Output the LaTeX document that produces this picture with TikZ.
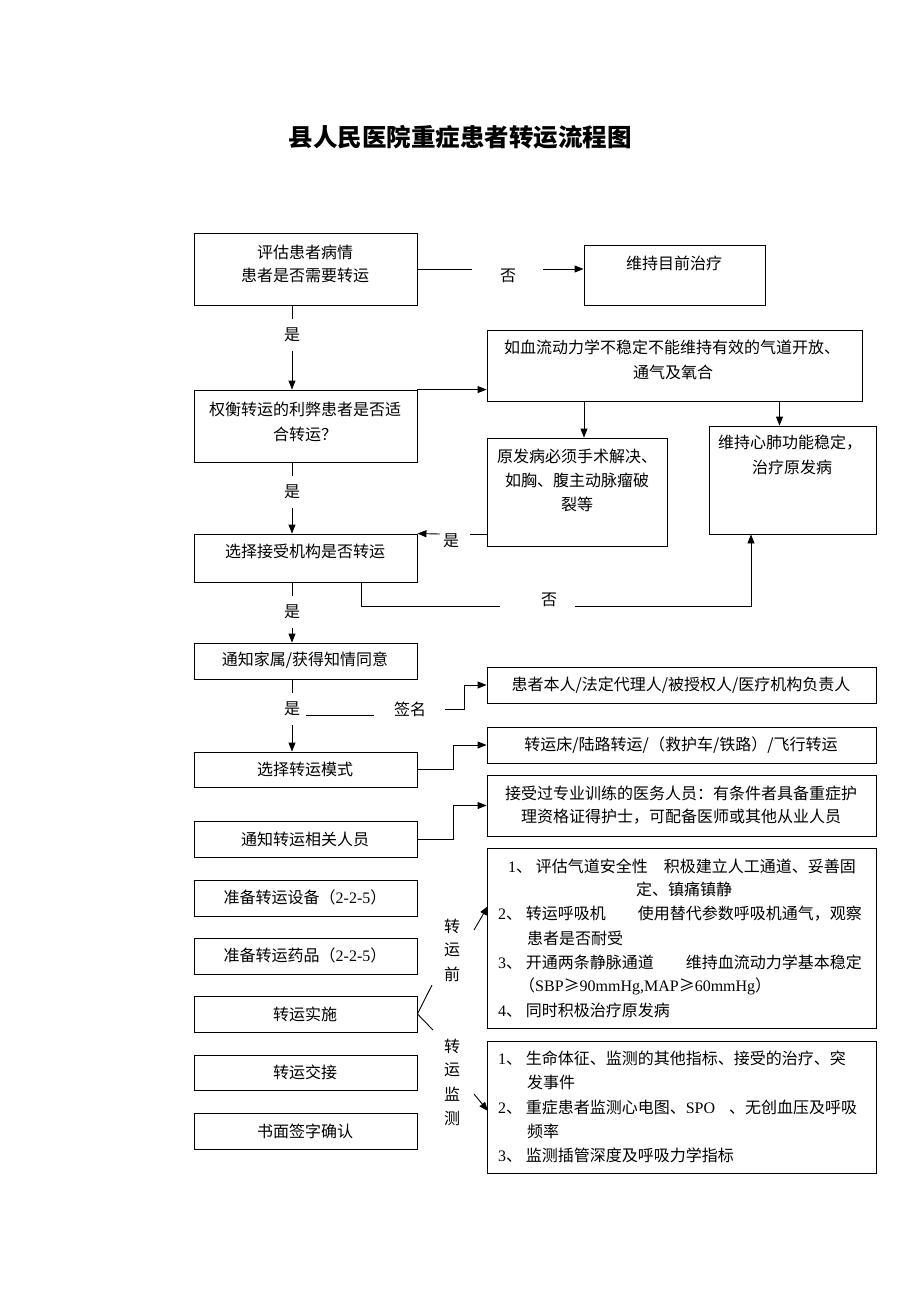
\documentclass[tikz,border=0pt]{standalone}
\usepackage{fontspec}
\setmainfont{Liberation Serif}
\newfontfamily\cjk{Noto Sans CJK SC}
\newcommand\lat[1]{{\rmfamily #1}}
\usetikzlibrary{arrows.meta,fit,calc}
\begin{document}
\begin{tikzpicture}[x=1pt,y=-1pt,
  box/.style={draw, line width=0.9pt, inner sep=0pt},
  txt/.style={font={\cjk\fontsize{16}{19}\selectfont}, inner sep=0pt},
  ltxt/.style={txt, anchor=west},
  ln/.style={line width=0.9pt},
  arr/.style={line width=0.9pt, -{Triangle[length=9pt,width=7pt]}}]
\useasboundingbox (0,0) rectangle (920,1302);
\fill[white] (0,0) rectangle (920,1302);

\node[font={\cjk\bfseries\fontsize{24.5}{28}\selectfont}, inner sep=0pt] (title) at (460,137) {县人民医院重症患者转运流程图};

% boxes
\node[box, fit={(194,233)(417,305)}] (b1) {};
\node[box, fit={(584,245)(765,305)}] (b2) {};
\node[box, fit={(194,390)(417,462)}] (b3) {};
\node[box, fit={(487,330)(862,401)}] (b4) {};
\node[box, fit={(487,438)(667,546)}] (b5) {};
\node[box, fit={(709,426)(876,534)}] (b6) {};
\node[box, fit={(194,534)(417,582)}] (b7) {};
\node[box, fit={(194,643)(417,679)}] (b8) {};
\node[box, fit={(487,667)(876,703)}] (b9) {};
\node[box, fit={(194,752)(417,787)}] (b10) {};
\node[box, fit={(487,727)(876,763)}] (b11) {};
\node[box, fit={(487,775)(876,836)}] (b12) {};
\node[box, fit={(194,821)(417,857)}] (b13) {};
\node[box, fit={(194,880)(417,916)}] (b14) {};
\node[box, fit={(194,938)(417,974)}] (b15) {};
\node[box, fit={(194,996)(417,1032)}] (b16) {};
\node[box, fit={(194,1055)(417,1090)}] (b17) {};
\node[box, fit={(194,1113)(417,1149)}] (b18) {};
\node[box, fit={(487,848)(876,1028)}] (b19) {};
\node[box, fit={(487,1041)(876,1173)}] (b20) {};

% texts
\node[txt] (t1a) at (305,252) {评估患者病情};
\node[txt] (t1b) at (305,275) {患者是否需要转运};
\node[txt] (t2) at (674,263) {维持目前治疗};
\node[txt] (t3a) at (305,409) {权衡转运的利弊患者是否适};
\node[txt] (t3b) at (305,434) {合转运？};
\node[txt] (t4a) at (672,347) {如血流动力学不稳定不能维持有效的气道开放、};
\node[txt] (t4b) at (673,372) {通气及氧合};
\node[txt] (t5a) at (577,456) {原发病必须手术解决、};
\node[txt] (t5b) at (577,480) {如胸、腹主动脉瘤破};
\node[txt] (t5c) at (577,504) {裂等};
\node[txt] (t6a) at (790,443) {维持心肺功能稳定，};
\node[txt] (t6b) at (792,467) {治疗原发病};
\node[txt] (t7) at (305,551) {选择接受机构是否转运};
\node[txt] (t8) at (305,660) {通知家属/获得知情同意};
\node[txt] (t9) at (681,685) {患者本人/法定代理人/被授权人/医疗机构负责人};
\node[txt] (t10) at (305,769) {选择转运模式};
\node[txt] (t11) at (681,745) {转运床/陆路转运/（救护车/铁路）/飞行转运};
\node[txt] (t12a) at (681,793) {接受过专业训练的医务人员：有条件者具备重症护};
\node[txt] (t12b) at (681,817) {理资格证得护士，可配备医师或其他从业人员};
\node[txt] (t13) at (305,839) {通知转运相关人员};
\node[txt] (t14) at (305,897) {准备转运设备（\lat{2-2-5}）};
\node[txt] (t15) at (305,955) {准备转运药品（\lat{2-2-5}）};
\node[txt] (t16) at (305,1014) {转运实施};
\node[txt] (t17) at (305,1072) {转运交接};
\node[txt] (t18) at (305,1131) {书面签字确认};

% list 1
\node[txt] (s1) at (682,866) {\lat{1}、 评估气道安全性　积极建立人工通道、妥善固};
\node[txt] (s2) at (684,889) {定、镇痛镇静};
\node[ltxt] (s3) at (498,914) {\lat{2}、 转运呼吸机　　使用替代参数呼吸机通气，观察};
\node[ltxt] (s4) at (527,938) {患者是否耐受};
\node[ltxt] (s5) at (498,962) {\lat{3}、 开通两条静脉通道　　维持血流动力学基本稳定};
\node[ltxt] (s6) at (519,986) {（\lat{SBP}≥\lat{90mmHg,MAP}≥\lat{60mmHg}）};
\node[ltxt] (s7) at (498,1010) {\lat{4}、 同时积极治疗原发病};
% list 2
\node[ltxt] (m1) at (498,1058) {\lat{1}、 生命体征、监测的其他指标、接受的治疗、突};
\node[ltxt] (m2) at (527,1082) {发事件};
\node[ltxt] (m3) at (498,1107) {\lat{2}、 重症患者监测心电图、\lat{SPO}\hspace{14pt}、无创血压及呼吸};
\node[ltxt] (m4) at (527,1131) {频率};
\node[ltxt] (m5) at (498,1155) {\lat{3}、 监测插管深度及呼吸力学指标};

% vertical labels
\node[txt] (q1) at (452,926) {转};
\node[txt] (q2) at (452,950) {运};
\node[txt] (q3) at (452,974) {前};
\node[txt] (r1) at (452,1046) {转};
\node[txt] (r2) at (452,1070) {运};
\node[txt] (r3) at (452,1094) {监};
\node[txt] (r4) at (452,1118) {测};

% connector labels
\node[txt] (n1) at (508,276) {否};
\node[txt] (y1) at (292,335) {是};
\node[txt] (y2) at (292,492) {是};
\node[txt] (y3) at (451,541) {是};
\node[txt] (n2) at (549,600) {否};
\node[txt] (y4) at (292,612) {是};
\node[txt] (y5) at (292,709) {是};
\node[txt] (sg) at (410,709) {签名};

\coordinate (g1) at (472,269);
\coordinate (g2) at (543,269);
\coordinate (g3) at (470,534);
\coordinate (g4) at (440,534);
\coordinate (g5) at (500,606);
\coordinate (g6) at (575,606);
\coordinate (k1) at (361,606);
\coordinate (k2) at (751,606);
\coordinate (u1) at (306,715);
\coordinate (u2) at (374,715);
\coordinate (h1) at (445,709);
\coordinate (h2) at (464,709);
\coordinate (j1) at (453,769);
\coordinate (j2) at (453,839);
\coordinate (br1) at (432,985);
\coordinate (br2) at (433,1030);
\coordinate (a1) at (474,930);
\coordinate (a2) at (488,906);
\coordinate (a3) at (474,1094);
\coordinate (a4) at (488,1111);

% connectors
\draw[ln] (b1.east |- g1) -- (g1);
\draw[arr] (g2) -- (b2.west |- g2);
\draw[ln] (b1.south -| y1) -- ([yshift=9pt]y1.north);
\draw[arr] ([yshift=-9pt]y1.south) -- (b3.north -| y1);
\draw[arr] (b3.north east) -- (b3.north east -| b4.west);
\draw[arr] ($(b4.south -| b5.north)+(7,0)$) -- ($(b5.north)+(7,0)$);
\draw[arr] ($(b4.south -| b6.north)+(-13,0)$) -- ($(b6.north)+(-13,0)$);
\draw[ln] (b3.south -| y2) -- ([yshift=9pt]y2.north);
\draw[arr] ([yshift=-9pt]y2.south) -- (b7.north -| y2);
\draw[ln] (b5.west |- g3) -- (g3);
\draw[arr] (g4) -- (b7.north east);
\draw[ln] (b7.south -| k1) -- (k1) -- (g5);
\draw[arr] (g6) -- (k2) -- (b6.south -| k2);
\draw[ln] (b7.south -| y4) -- ([yshift=9pt]y4.north);
\draw[arr] ([yshift=-9pt]y4.south) -- (b8.north -| y4);
\draw[ln] (b8.south -| y5) -- ([yshift=9pt]y5.north);
\draw[arr] ([yshift=-9pt]y5.south) -- (b10.north -| y5);
\draw[ln] (u1) -- (u2);
\draw[arr] (h1) -- (h2) |- (b9.west);
\draw[arr] (b10.east) -- (b10.east -| j1) |- (b11.west);
\draw[arr] (b13.east) -- (b13.east -| j2) |- (b12.west);
\draw[ln] (br1) -- (b16.east) -- (br2);
\draw[arr] (a1) -- (a2);
\draw[arr] (a3) -- (a4);
\end{tikzpicture}
\end{document}
